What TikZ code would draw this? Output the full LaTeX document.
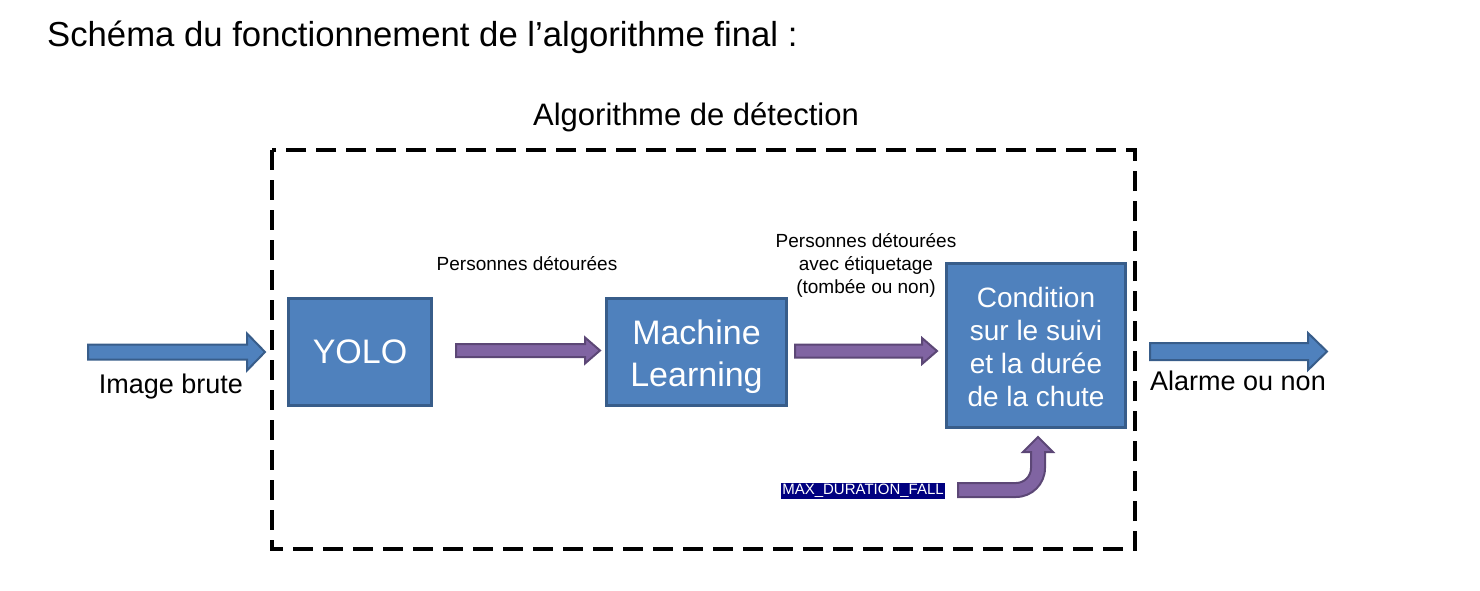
\documentclass[tikz,border=0pt]{standalone}
\usepackage{fontspec}
\setmainfont{Liberation Sans}
\definecolor{boxfill}{HTML}{4F81BD}
\definecolor{boxline}{HTML}{385D8A}
\definecolor{purfill}{HTML}{8064A2}
\definecolor{purline}{HTML}{5C4776}
\definecolor{navybg}{HTML}{000080}
\newcommand\fs[2]{\fontsize{#1}{#2}\selectfont}
\newcommand\barr[7]{\filldraw[#7] (#1,#3-#4) -- (#2-#6,#3-#4) -- (#2-#6,#3-#5) -- (#2,#3) -- (#2-#6,#3+#5) -- (#2-#6,#3+#4) -- (#1,#3+#4) -- cycle;}
\tikzset{
  procbox/.style={draw=boxline, fill=boxfill, line width=3pt, text=white, align=center, inner sep=0pt},
  boxtext/.style={text=white, align=center, inner sep=0pt},
  bluearrow/.style={draw=boxline, fill=boxfill, line width=2pt, line join=miter},
  purarrow/.style={draw=purline, fill=purfill, line width=2pt, line join=miter},
  lbl/.style={inner sep=0pt, align=center, text=black},
}
\begin{document}
\begin{tikzpicture}[x=1pt,y=-1pt]
\useasboundingbox (0,0) rectangle (1480,591);
% title
\node[lbl, anchor=base west, font=\fs{34.7}{40}] (title) at (47,47) {Schéma du fonctionnement de l’algorithme final :};
% frame
\draw[line width=3.5pt, dash pattern=on 20pt off 10pt] (272,150) rectangle (1135,549);
\node[lbl, anchor=base, font=\fs{31}{36}] (frametitle) at (696,126) {Algorithme de détection};
% boxes
\node[procbox, minimum width=143pt, minimum height=107pt, font=\fs{34}{41}] (yolo) at (360,352) {YOLO};
\node[procbox, minimum width=180pt, minimum height=107pt] (ml) at (696.5,352) {};
\node[boxtext, font=\fs{34}{42}] (mltext) at ([yshift=-5pt]ml.center) {Machine\\Learning};
\node[procbox, minimum width=179pt, minimum height=164pt] (cond) at (1036,345.5) {};
\node[boxtext, font=\fs{28}{33}] (condtext) at ([yshift=-1.5pt]cond.center) {Condition\\sur le suivi\\et la durée\\de la chute};
% labels
\node[lbl, font=\fs{19}{23}] (lab1) at (527,264) {Personnes détourées};
\node[lbl, font=\fs{19}{23}] (lab2) at (866,265) {Personnes détourées\\avec étiquetage\\(tombée ou non)};
\node[lbl, font=\fs{27}{32}] (inlbl) at (171,387) {Image brute};
\node[lbl, font=\fs{27}{32}] (outlbl) at (1238,381) {Alarme ou non};
\node[fill=navybg, text=white, inner sep=1pt, font=\fs{15}{17}] (maxd) at (863,491) {MAX\_DURATION\_FALL};
% block arrows
\barr{88}{265}{352}{7.5}{18.5}{18}{bluearrow}
\barr{1150}{1327}{351.5}{8.5}{18.5}{19}{bluearrow}
\barr{456}{600}{350.5}{6.5}{13}{15}{purarrow}
\barr{795}{937}{351}{6.5}{13}{15}{purarrow}
% curved arrow from MAX_DURATION_FALL to condition box
\filldraw[purarrow] (958,497) -- (1016,497) arc[start angle=90, end angle=0, radius=29] -- (1045,452) -- (1053,452) -- (1038,437) -- (1023,452) -- (1031,452) -- (1031,468) arc[start angle=0, end angle=90, radius=15] -- (958,483) -- cycle;
\end{tikzpicture}
\end{document}
